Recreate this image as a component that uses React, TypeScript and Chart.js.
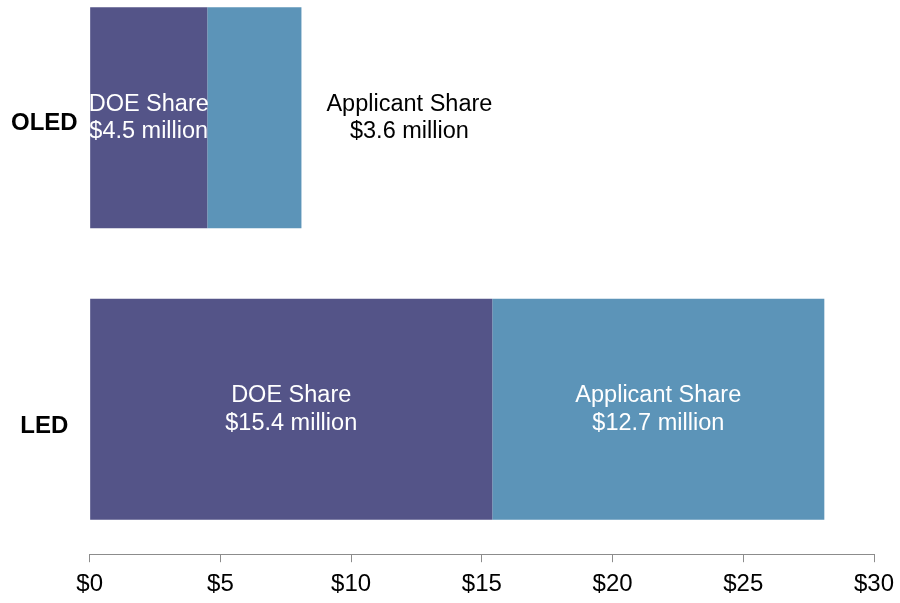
import React, { useEffect, useRef } from "react";
import { Chart, registerables } from "chart.js";

Chart.register(...registerables);

const categories = ["OLED", "LED"];
const seriesNames = ["DOE Share", "Applicant Share"];
const doeShare = [4.5, 15.4];
const applicantShare = [3.6, 12.7];
const xTickValues = [0, 5, 10, 15, 20, 25, 30];
const xTickLabels = ["$0", "$5", "$10", "$15", "$20", "$25", "$30"];

const FONT = "'Liberation Sans', Arial, Helvetica, sans-serif";
const COLORS = ["#545488", "#5c94b8"];
// small vertical nudge of the category labels relative to the bar centres (in category units)
const LABEL_NUDGE = [-0.02, -0.057];

// category i is placed at y = n-1-i on a linear index axis
const catPos = (i: number) => categories.length - 1 - i;

const labelPlugin = {
  id: "barLabels",
  afterDatasetsDraw(chart: any) {
    const ctx = chart.ctx;
    ctx.save();
    const size = 23.5;
    const lh = 27.5;
    ctx.font = `${size}px ${FONT}`;
    ctx.textBaseline = "middle";
    chart.data.datasets.forEach((ds: any, di: number) => {
      const meta = chart.getDatasetMeta(di);
      meta.data.forEach((el: any, i: number) => {
        const v = ds.rawValues[i];
        const lines = [ds.label, `$${v.toFixed(1)} million`];
        const w = Math.max(...lines.map((l: string) => ctx.measureText(l).width));
        const left = Math.min(el.x, el.base);
        const right = Math.max(el.x, el.base);
        const barW = right - left;
        let cx = (left + right) / 2;
        let color = "#ffffff";
        if (di === chart.data.datasets.length - 1 && barW < w) {
          cx = right + 25 + w / 2;
          color = "#000000";
        }
        ctx.fillStyle = color;
        ctx.textAlign = "center";
        const y0 = el.y - lh / 2;
        lines.forEach((l: string, k: number) => ctx.fillText(l, cx, y0 + k * lh));
      });
    });
    ctx.restore();
  },
};

export default function App() {
  const ref = useRef<HTMLCanvasElement | null>(null);
  useEffect(() => {
    if (!ref.current) return;
    const mk = (vals: number[]) => vals.map((v, i) => ({ x: v, y: catPos(i) }));
    const chart = new Chart(ref.current, {
      type: "bar",
      data: {
        datasets: [
          { label: seriesNames[0], data: mk(doeShare), rawValues: doeShare, backgroundColor: COLORS[0], borderWidth: 0, clip: false } as any,
          { label: seriesNames[1], data: mk(applicantShare), rawValues: applicantShare, backgroundColor: COLORS[1], borderWidth: 0, clip: false } as any,
        ],
      },
      options: {
        indexAxis: "y",
        animation: false,
        responsive: false,
        devicePixelRatio: 1,
        layout: { padding: { left: 7, right: 0, top: 0, bottom: -4 } },
        plugins: { legend: { display: false }, tooltip: { enabled: false } },
        datasets: { bar: { barPercentage: 0.758, categoryPercentage: 1 } },
        scales: {
          x: {
            type: "linear",
            stacked: true,
            min: 0,
            max: 30,
            afterBuildTicks: (scale: any) => {
              scale.ticks = xTickValues.map((v) => ({ value: v }));
            },
            afterFit: (scale: any) => {
              scale.paddingRight = 26;
            },
            grid: { drawOnChartArea: false, drawTicks: true, tickLength: 8, color: "#8c8c8c" },
            border: { display: true, color: "#8c8c8c", width: 1 },
            ticks: {
              font: { family: FONT, size: 24 },
              color: "#000000",
              padding: 8,
              maxRotation: 0,
              callback: (v: any) => xTickLabels[xTickValues.indexOf(Number(v))] ?? "",
            },
          },
          y: {
            type: "linear",
            stacked: true,
            offset: false,
            min: -0.497,
            max: 1.341,
            afterBuildTicks: (scale: any) => {
              scale.ticks = categories.map((_, i) => ({ value: catPos(i) + LABEL_NUDGE[i] }));
            },
            grid: { display: false },
            border: { display: false },
            ticks: {
              font: { family: FONT, size: 24, weight: "bold" },
              color: "#000000",
              crossAlign: "center",
              padding: 4,
              callback: (v: any) => categories[categories.length - 1 - Math.round(Number(v))] ?? "",
            },
          },
        },
      } as any,
      plugins: [labelPlugin],
    });
    return () => chart.destroy();
  }, []);
  return (
    <div style={{ position: "fixed", left: 0, top: 0, width: 900, height: 603, background: "#fff" }}>
      <canvas ref={ref} width={900} height={603} />
    </div>
  );
}
